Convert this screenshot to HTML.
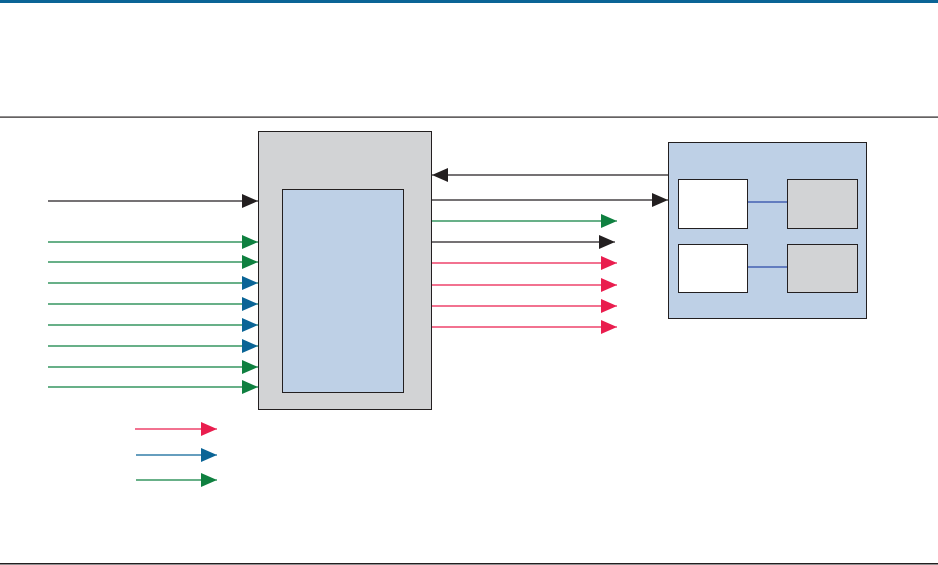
<!DOCTYPE html>
<html><head><style>html,body{margin:0;padding:0;background:#fff}svg{display:block}</style></head>
<body>
<svg width="938" height="565" viewBox="0 0 938 565" xmlns="http://www.w3.org/2000/svg">
<defs>
<marker id="k" markerWidth="16" markerHeight="14" refX="16" refY="7" orient="auto" markerUnits="userSpaceOnUse"><path d="M0,0 L16,7 L0,14Z" fill="#231f20"/></marker>
<marker id="g" markerWidth="16" markerHeight="14" refX="16" refY="7" orient="auto" markerUnits="userSpaceOnUse"><path d="M0,0 L16,7 L0,14Z" fill="#0f8040"/></marker>
<marker id="b" markerWidth="16" markerHeight="14" refX="16" refY="7" orient="auto" markerUnits="userSpaceOnUse"><path d="M0,0 L16,7 L0,14Z" fill="#0a6496"/></marker>
<marker id="r" markerWidth="16" markerHeight="14" refX="16" refY="7" orient="auto" markerUnits="userSpaceOnUse"><path d="M0,0 L16,7 L0,14Z" fill="#e91d4e"/></marker>
</defs>
<rect x="0" y="0" width="938" height="3" fill="#0a6496"/>
<rect x="0" y="116.5" width="938" height="1.2" fill="#231f20"/>
<rect x="0" y="563" width="938" height="1.5" fill="#231f20"/>
<rect x="258.5" y="131.5" width="173" height="278" fill="#d2d3d5" stroke="#231f20" stroke-width="1"/>
<rect x="282.5" y="189.5" width="121" height="203" fill="#bed0e6" stroke="#231f20" stroke-width="1"/>
<g stroke-width="1.3" fill="none">
<line x1="48" y1="201" x2="258" y2="201" stroke="#231f20" marker-end="url(#k)"/>
<line x1="48" y1="242" x2="258" y2="242" stroke="#0f8040" marker-end="url(#g)"/>
<line x1="48" y1="262" x2="258" y2="262" stroke="#0f8040" marker-end="url(#g)"/>
<line x1="48" y1="283" x2="258" y2="283" stroke="#0f8040" marker-end="url(#b)"/>
<line x1="48" y1="304" x2="258" y2="304" stroke="#0f8040" marker-end="url(#b)"/>
<line x1="48" y1="325" x2="258" y2="325" stroke="#0f8040" marker-end="url(#b)"/>
<line x1="48" y1="346" x2="258" y2="346" stroke="#0f8040" marker-end="url(#b)"/>
<line x1="48" y1="367" x2="258" y2="367" stroke="#0f8040" marker-end="url(#g)"/>
<line x1="48" y1="387" x2="258" y2="387" stroke="#0f8040" marker-end="url(#g)"/>
<line x1="668" y1="175" x2="432" y2="175" stroke="#231f20" marker-end="url(#k)"/>
<line x1="432" y1="200" x2="668" y2="200" stroke="#231f20" marker-end="url(#k)"/>
<line x1="432" y1="221" x2="617" y2="221" stroke="#0f8040" marker-end="url(#g)"/>
<line x1="432" y1="242" x2="615" y2="242" stroke="#231f20" marker-end="url(#k)"/>
<line x1="432" y1="263" x2="617" y2="263" stroke="#e91d4e" marker-end="url(#r)"/>
<line x1="432" y1="285" x2="617" y2="285" stroke="#e91d4e" marker-end="url(#r)"/>
<line x1="432" y1="306" x2="617" y2="306" stroke="#e91d4e" marker-end="url(#r)"/>
<line x1="432" y1="327" x2="617" y2="327" stroke="#e91d4e" marker-end="url(#r)"/>
<line x1="135" y1="429" x2="217" y2="429" stroke="#e91d4e" marker-end="url(#r)"/>
<line x1="136" y1="455" x2="217" y2="455" stroke="#0a6496" marker-end="url(#b)"/>
<line x1="136" y1="480" x2="217" y2="480" stroke="#0f8040" marker-end="url(#g)"/>
</g>
<rect x="668.5" y="142.5" width="198" height="176" fill="#bed0e6" stroke="#231f20" stroke-width="1"/>
<line x1="747" y1="202" x2="787" y2="202" stroke="#2b4aa8" stroke-width="1.2"/>
<line x1="747" y1="267" x2="787" y2="267" stroke="#2b4aa8" stroke-width="1.2"/>
<rect x="678.5" y="179.5" width="69" height="49" fill="#fff" stroke="#231f20" stroke-width="1"/>
<rect x="787.5" y="179.5" width="70" height="49" fill="#d2d3d5" stroke="#231f20" stroke-width="1"/>
<rect x="678.5" y="244.5" width="69" height="48" fill="#fff" stroke="#231f20" stroke-width="1"/>
<rect x="787.5" y="244.5" width="70" height="48" fill="#d2d3d5" stroke="#231f20" stroke-width="1"/>
</svg>
</body></html>
